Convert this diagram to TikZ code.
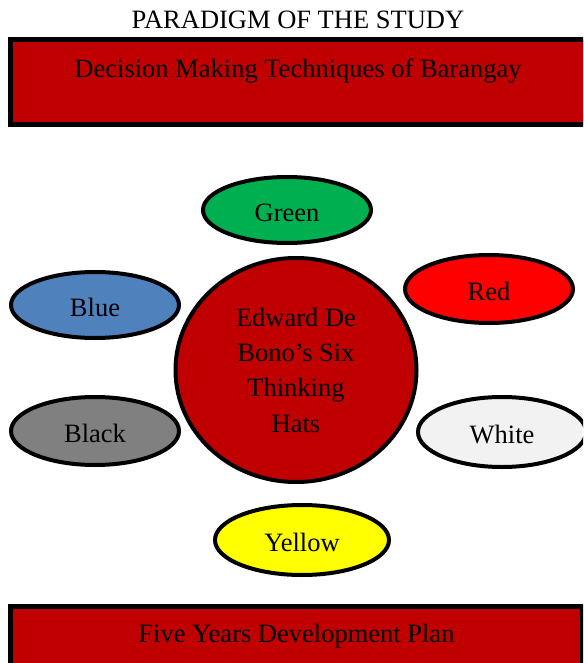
\documentclass[tikz,border=0pt]{standalone}
\usepackage{fontspec}
\setmainfont{Liberation Serif}
\usetikzlibrary{positioning, shapes}

\definecolor{darkred}{HTML}{C00000}
\definecolor{hatgreen}{HTML}{00B050}
\definecolor{hatblue}{HTML}{4F81BD}
\definecolor{hatred}{HTML}{FF0000}
\definecolor{hatgray}{HTML}{808080}
\definecolor{hatwhite}{HTML}{F2F2F2}
\definecolor{hatyellow}{HTML}{FFFF00}

\begin{document}
\begin{tikzpicture}[x=1pt, y=1pt, font=\fontsize{26.5}{35.3}\selectfont,
  hat/.style={ellipse, draw, line width=4pt, inner sep=0pt, outer sep=0pt, minimum width=168pt, minimum height=66pt, text height=22pt, text depth=0pt},
  bar/.style={rectangle, draw, line width=5pt, fill=darkred, inner sep=0pt, outer sep=0pt, anchor=north}]
\clip (0,0) rectangle (583,-663);
\node [anchor=base] (title) at (298,-29) {PARADIGM OF THE STUDY};
\node [bar, minimum width=590pt, text height=38pt, text depth=47pt] (techniques) at (305.5,-39.5) {Decision Making Techniques of Barangay\hspace*{15pt}};

\node [ellipse, draw, line width=4pt, fill=darkred, inner sep=0pt, minimum width=241pt, minimum height=224pt, align=center] (hats) at (296,-370) {Edward De\\Bono’s Six\\Thinking\\Hats};

\node [hat, fill=hatgreen] (green) at (287,-210) {Green};
\node [hat, fill=hatblue] (blue) at (95,-305) {Blue};
\node [hat, fill=hatred, minimum height=68pt] (red) at (489,-289) {Red};
\node [hat, fill=hatgray, minimum height=68pt] (black) at (95,-431) {Black};
\node [hat, fill=hatwhite, minimum height=70pt] (white) at (502,-432) {White};
\node [hat, fill=hatyellow, minimum width=174pt, minimum height=70pt] (yellow) at (302,-540) {Yellow};

\node [bar, minimum width=572pt, text height=36pt, text depth=60pt] (plan) at (296.5,-606) {Five Years Development Plan};
\end{tikzpicture}
\end{document}
